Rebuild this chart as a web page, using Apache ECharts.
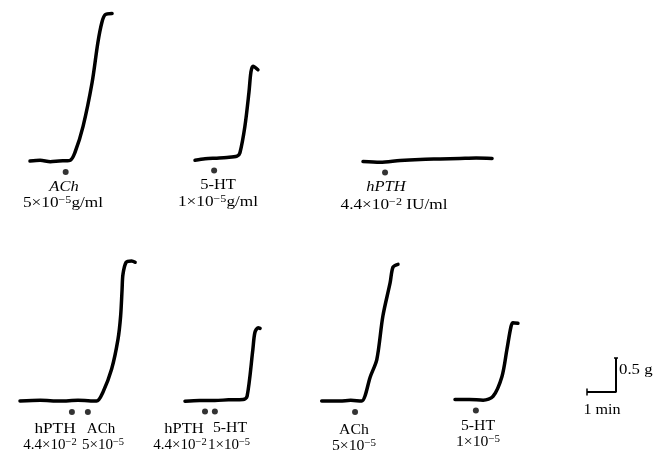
<!DOCTYPE html>
<html><head><meta charset="utf-8">
<script src="https://cdn.jsdelivr.net/npm/echarts@6/dist/echarts.min.js"></script>
<style>html,body{margin:0;padding:0;background:#fff}#c{width:670px;height:455px}</style>
</head><body><div id="c"></div>
<script>
// ---- Data: traces as [time (min), tension (g)] ----
const traceACh1 = [[0,0],[0.35,0.01],[0.7,-0.01],[1.0,0.0],[1.38,0.01],[1.55,0.125],[1.83,0.51],[2.14,1.15],[2.34,1.74],[2.48,2.04],[2.59,2.15],[2.83,2.17]];
const traceHT1 = [[0,-0.01],[0.35,0.01],[0.69,0.02],[1.1,0.03],[1.45,0.05],[1.55,0.10],[1.72,0.485],[1.86,0.985],[1.93,1.29],[2.0,1.37],[2.17,1.32]];
const traceHPTH1 = [[0,0],[0.59,-0.01],[1.28,0.015],[1.97,0.03],[2.66,0.037],[3.34,0.044],[3.9,0.05],[4.45,0.044]];
const traceHPTH_ACh = [[0,0],[0.7,0.01],[1.38,0],[2.0,0.01],[2.64,0],[2.86,0.13],[3.16,0.47],[3.38,0.91],[3.47,1.25],[3.52,1.64],[3.55,1.86],[3.66,2.04],[3.85,2.06],[3.97,2.04]];
const traceHPTH_HT = [[0,-0.01],[0.5,0.0],[1.03,0],[1.5,0.01],[2.0,0.015],[2.14,0.06],[2.34,0.75],[2.41,1.0],[2.52,1.07],[2.59,1.06]];
const traceACh2 = [[0,0],[0.63,0],[1.0,0.01],[1.38,0],[1.49,0.07],[1.67,0.35],[1.9,0.61],[2.11,1.25],[2.36,1.74],[2.46,1.97],[2.63,2.01]];
const traceHT2 = [[0,0],[0.5,0.0],[0.97,-0.01],[1.31,0.045],[1.62,0.34],[1.79,0.735],[1.93,1.07],[2.0,1.13],[2.17,1.12]];
// Stimulus (drug application) times, min
const stimACh1 = [1.23];
const stimHT1 = [0.66];
const stimHPTH1 = [0.76];
const stimHPTH_ACh = [1.79, 2.34];
const stimHPTH_HT = [0.69, 1.03];
const stimACh2 = [1.15];
const stimHT2 = [0.72];
// Calibration
const scaleTime = 1;     // min
const scaleForce = 0.5;  // g

// ---- Layout ----
const PXMIN = 29, PXG = 68, XMAX = 5, YMIN = -0.3, YMAX = 2.3;
const panels = [
  {o:[30,161], d:traceACh1, s:stimACh1},
  {o:[195,159.5], d:traceHT1, s:stimHT1},
  {o:[363,161.5], d:traceHPTH1, s:stimHPTH1},
  {o:[20,401], d:traceHPTH_ACh, s:stimHPTH_ACh},
  {o:[185,400.5], d:traceHPTH_HT, s:stimHPTH_HT},
  {o:[321.7,401], d:traceACh2, s:stimACh2},
  {o:[455,399.5], d:traceHT2, s:stimHT2}
];
const markLevel = -0.16;
const grid = [], xAxis = [], yAxis = [], series = [];
panels.forEach((p, i) => {
  grid.push({left:p.o[0], top:p.o[1] - YMAX*PXG, width:XMAX*PXMIN, height:(YMAX-YMIN)*PXG});
  xAxis.push({type:'value', gridIndex:i, min:0, max:XMAX, show:false});
  yAxis.push({type:'value', gridIndex:i, min:YMIN, max:YMAX, show:false});
  series.push({type:'line', xAxisIndex:i, yAxisIndex:i, data:p.d, showSymbol:false, smooth:0.3,
    lineStyle:{color:'#000', width:3.5, cap:'round', join:'round'}, silent:true});
  series.push({type:'scatter', xAxisIndex:i, yAxisIndex:i, data:p.s.map(t=>[t,markLevel]),
    symbol:'circle', symbolSize:6, itemStyle:{color:'#000'}, silent:true});
});
// calibration bar grid
const gi = panels.length;
grid.push({left:587, top:392 - 1*PXG, width:2*PXMIN, height:1.5*PXG});
xAxis.push({type:'value', gridIndex:gi, min:0, max:2, show:false});
yAxis.push({type:'value', gridIndex:gi, min:-0.5, max:1, show:false});
const barStyle = {color:'#000', width:2};
series.push({type:'line', xAxisIndex:gi, yAxisIndex:gi, data:[[0,0],[scaleTime,0],[scaleTime,scaleForce]], showSymbol:false, lineStyle:barStyle, silent:true});
series.push({type:'line', xAxisIndex:gi, yAxisIndex:gi, data:[[scaleTime-0.07,scaleForce],[scaleTime+0.07,scaleForce]], showSymbol:false, lineStyle:{color:'#000',width:1.5}, silent:true});
series.push({type:'line', xAxisIndex:gi, yAxisIndex:gi, data:[[0,-0.05],[0,0.05]], showSymbol:false, lineStyle:{color:'#000',width:1.5}, silent:true});

const FONT = '"Liberation Serif", "DejaVu Serif", serif';
function txt(x, y, text, italic, sx) {
  const fs = italic ? 'italic' : 'normal';
  return {type:'text', x:x, y:y, scaleX: sx || 1.1, originX: 0, originY: 0,
    style:{text:text, fill:'#000', align:'center', verticalAlign:'middle',
      fontSize:15, fontFamily:FONT, fontStyle: fs,
      rich:{
        n:{fontSize:15, fontFamily:FONT, fontStyle: fs, lineHeight:16, verticalAlign:'bottom'},
        s:{fontSize:10.5, fontFamily:FONT, lineHeight:10, verticalAlign:'top', padding:[0,0,12,0]}
      }}};
}
const labels = [
  txt(64,187,'{n|ACh}',true), txt(63,203,'{n|5×10}{s|−5}{n|g/ml}',false,1.15),
  txt(218,185,'{n|5-HT}'), txt(218,202,'{n|1×10}{s|−5}{n|g/ml}',false,1.15),
  txt(386,187,'{n|hPTH}',true), txt(394,205,'{n|4.4×10}{s|−2}{n| IU/ml}',false,1.15),
  txt(55,429,'{n|hPTH}',false,1.15), txt(50,445,'{n|4.4×10}{s|−2}',false,1.0),
  txt(101,429,'{n|ACh}',false,1.0), txt(103,445,'{n|5×10}{s|−5}',false,1.0),
  txt(184,429,'{n|hPTH}',false,1.1), txt(180,445,'{n|4.4×10}{s|−2}',false,1.0),
  txt(230,428,'{n|5-HT}',false,1.05), txt(229,445,'{n|1×10}{s|−5}',false,1.0),
  txt(354,430,'{n|ACh}',false,1.05), txt(354,446,'{n|5×10}{s|−5}',false,1.05),
  txt(478,426,'{n|5-HT}',false,1.05), txt(478,442,'{n|1×10}{s|−5}',false,1.05),
];
const calib = [
  {type:'text', x:619, y:370, scaleX:1.2, originX:0, originY:0, style:{text:'0.5 g', fill:'#000', align:'left', verticalAlign:'middle', fontSize:14, fontFamily:FONT}},
  {type:'text', x:602, y:410, scaleX:1.15, originX:0, originY:0, style:{text:'1 min', fill:'#000', align:'center', verticalAlign:'middle', fontSize:14, fontFamily:FONT}}
];
const chart = echarts.init(document.getElementById('c'), null, {renderer:'canvas'});
chart.setOption({backgroundColor:'#fff', animation:false, grid, xAxis, yAxis, series,
  graphic: labels.concat(calib)});
</script></body></html>
